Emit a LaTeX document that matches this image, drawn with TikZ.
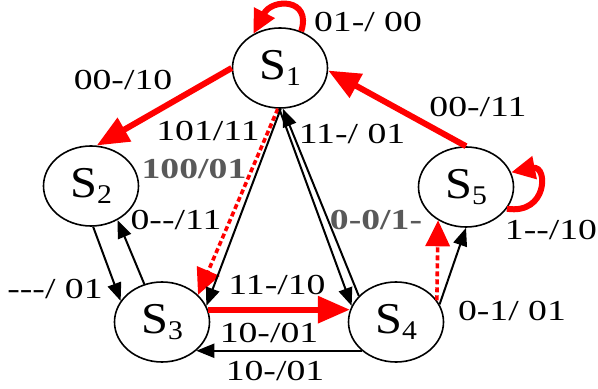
\documentclass[tikz,border=0pt]{standalone}
\usepackage{fontspec}
\setmainfont{Liberation Serif}
\newfontfamily\lblfont{Liberation Serif}[FakeStretch=1.3,Ligatures=TeXOff]
\newfontfamily\stfont{Liberation Serif}[FakeStretch=1.1]
\usepackage{tikz}
\usetikzlibrary{shapes.geometric,arrows.meta}
\newcommand{\sname}[1]{S\raisebox{-3pt}{\fontsize{13.5}{14}\selectfont #1}}

\begin{document}
\begin{tikzpicture}[
  x=0.5pt, y=-0.5pt,
  state/.style={draw, ellipse, line width=0.8pt, minimum width=47.5pt, minimum height=40pt, inner sep=0pt, font=\stfont\fontsize{22}{24}\selectfont},
  lbl/.style={inner sep=0pt, font=\lblfont\fontsize{14.5}{16}\selectfont},
  blbl/.style={inner sep=0pt, text=black!65, font=\lblfont\bfseries\fontsize{14.5}{16}\selectfont},
  arrow/.style={-{Triangle[length=9pt,width=7pt]}, line width=1pt},
  hot/.style={red, line width=3pt, -{Triangle[length=16pt,width=13pt]}},
  hotdash/.style={red, line width=1.8pt, dash pattern=on 2.5pt off 1.5pt, -{Triangle[length=13pt,width=12pt]}},
  selfloop/.style={red, line width=3pt, -{Triangle[length=12pt,width=11pt]}}
]
\useasboundingbox (0,0) rectangle (598,389);

% Estados
\node[state] (s1) at (280,68)  {\sname{1}};
\node[state] (s2) at (91,186)  {\sname{2}};
\node[state] (s3) at (162,322) {\sname{3}};
\node[state] (s4) at (396,322) {\sname{4}};
\node[state] (s5) at (466,187) {\sname{5}};

% Transiciones rojas
\draw[selfloop] (s1.60) .. controls (312,-2) and (272,-2) .. (s1.128);
\draw[selfloop] (s5.-28) .. controls (548,215) and (548,165) .. (s5.18);
\draw[hot] (s1.180) -- (s2.82);
\draw[hot] (s5.90) -- (s1.-3);
\draw[hot] (s3.15) -- (s4.165);
\draw[hotdash] (s1.-93) -- (s3.37);
\draw[hotdash] (s4.28) -- (s5.230);

% Transiciones negras
\draw[arrow] (s1.-89) -- (s3.20);
\draw[arrow] (s1.-91) -- (s4.160);
\draw[arrow] (s4.145) -- (s1.-86);
\draw[arrow] (s2.-87) -- (s3.153);
\draw[arrow] (s3.115) -- (s2.-52);
\draw[arrow] (s4.220) -- (s3.-40);
\draw[arrow] (s4.22) -- (s5.-90);

% Etiquetas
\node[lbl]  (l11)  at (368,22)  {01-/ 00};
\node[lbl]  (l12)  at (123,80)  {00-/10};
\node[lbl]  (l13)  at (208,131) {101/11};
\node[blbl] (l13d) at (194,169) {100/01};
\node[lbl]  (l51)  at (478,107) {00-/11};
\node[lbl]  (l14)  at (352,134) {11-/ 01};
\node[lbl]  (l32)  at (176,220) {0--/11};
\node[lbl]  (l23)  at (55,289)  {---/ 01};
\node[lbl]  (l34a) at (277,285) {11-/10};
\node[lbl]  (l34b) at (269,333) {10-/01};
\node[lbl]  (l43)  at (275,371) {10-/01};
\node[blbl] (l45d) at (376,220) {0-0/1-};
\node[lbl]  (l55)  at (551,230) {1--/10};
\node[lbl]  (l45)  at (512,311) {0-1/ 01};
\end{tikzpicture}
\end{document}
